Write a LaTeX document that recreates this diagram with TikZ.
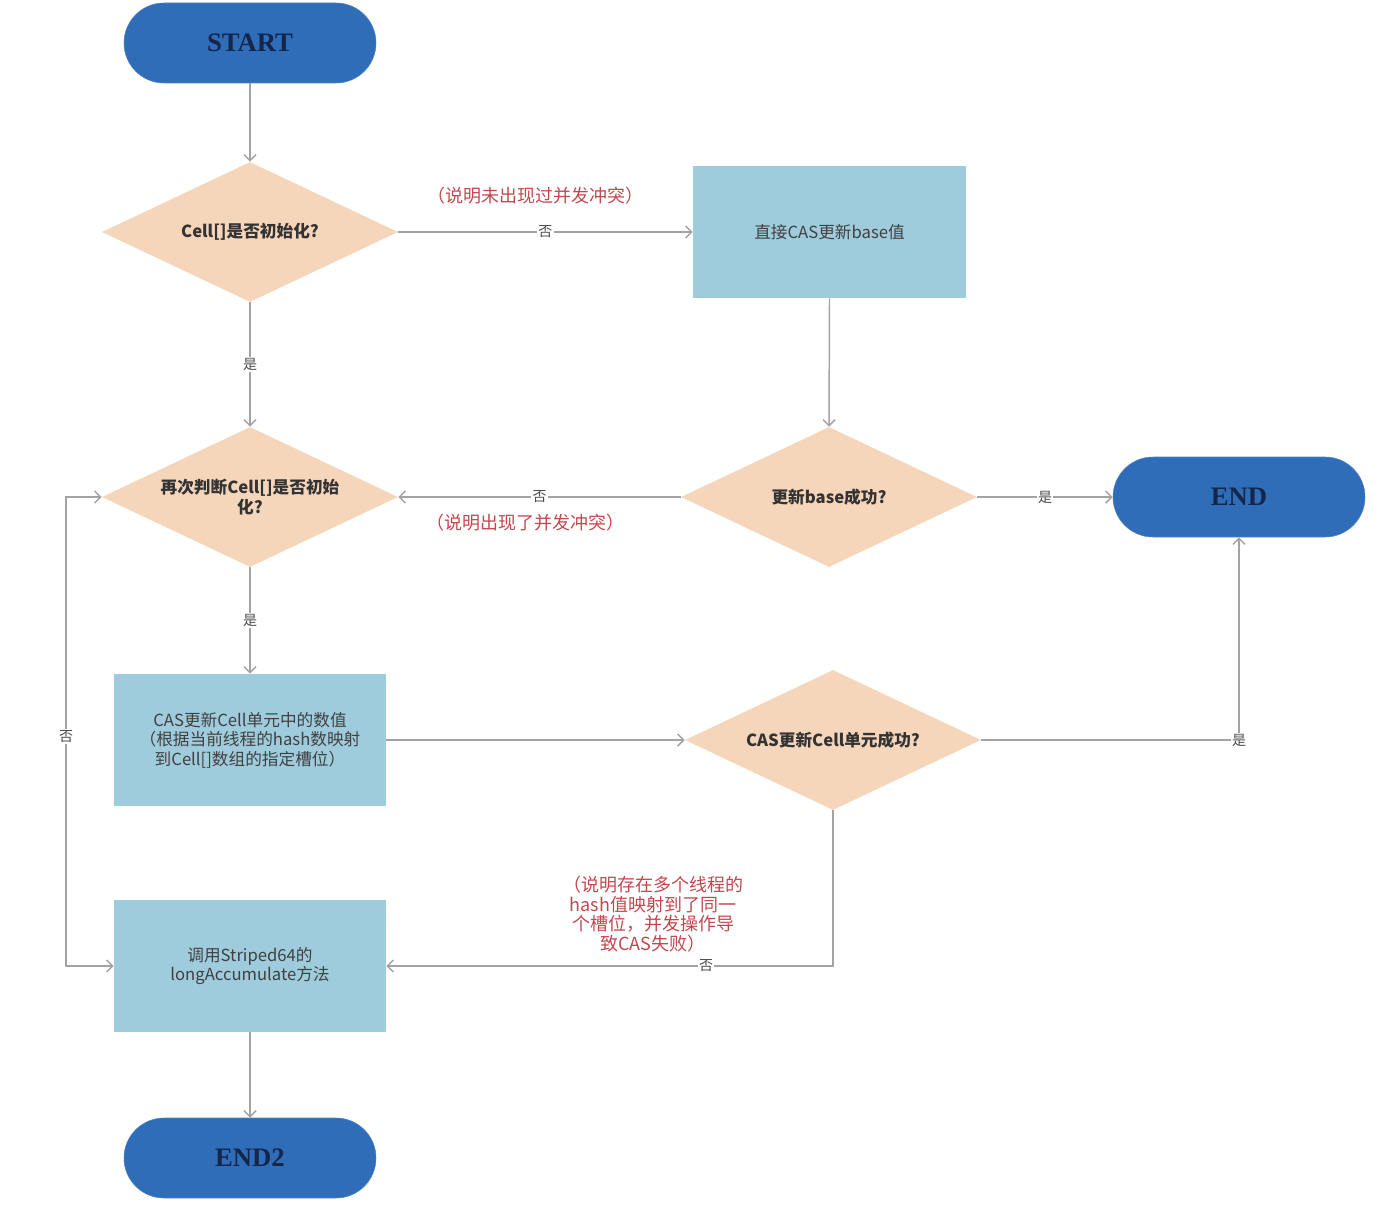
\documentclass[tikz,border=0pt]{standalone}
\usepackage{fontspec}
\setmainfont{Noto Sans CJK SC}
\newfontfamily\termfont{Liberation Serif}
\usetikzlibrary{shapes.geometric,arrows.meta}
\definecolor{termblue}{HTML}{2F6DB9}
\definecolor{termtext}{HTML}{14264A}
\definecolor{decfill}{HTML}{F6D6BB}
\definecolor{procfill}{HTML}{9FCCDD}
\definecolor{linegray}{HTML}{A3A3A3}
\definecolor{notered}{HTML}{C2474F}

\begin{document}
\begin{tikzpicture}[x=0.75pt,y=-0.75pt,
   term/.style={draw=termblue!85!white,fill=termblue,rounded corners=30pt,minimum width=189pt,minimum height=60pt,
      font=\termfont\bfseries\fontsize{20}{24}\selectfont,text=termtext},
   decision/.style={diamond,aspect=2.1,inner sep=0pt,fill=decfill,minimum width=222pt,minimum height=105pt,
      font=\bfseries\fontsize{12.5}{14.6}\selectfont,text=black!80,align=center},
   proc/.style={rectangle,fill=procfill,minimum width=205pt,minimum height=99pt,
      font=\fontsize{12.5}{14.6}\selectfont,text=black!75,align=center},
   line/.style={draw=linegray,line width=1.1pt,-{Straight Barb[length=4.5pt,width=9pt]}},
   yn/.style={fill=white,inner sep=1pt,font=\fontsize{10.5}{12}\selectfont,text=black!70},
   note/.style={font=\fontsize{13.5}{14.7}\selectfont,text=notered,align=center}]
   \useasboundingbox (0,0) rectangle (1384,1206);
   \node[term] (start) at (250,43) {START};
   \node[decision] (d1) at (250,232) {Cell[]是否初始化?};
   \node[proc,minimum width=205pt] (casbase) at (829.5,232) {直接CAS更新base值};
   \node[decision] (d2) at (250,497) {再次判断Cell[]是否初始\\化?};
   \node[decision] (d3) at (829,497) {更新base成功?};
   \node[term] (end) at (1239,497) {END};
   \node[proc,minimum width=204pt] (cascell) at (250,740) {CAS更新Cell单元中的数值\\（根据当前线程的hash数映射\\到Cell[]数组的指定槽位）};
   \node[decision] (d4) at (833,740) {CAS更新Cell单元成功?};
   \node[proc,minimum width=204pt] (longacc) at (250,966) {调用Striped64的\\longAccumulate方法};
   \node[term] (end2) at (250,1158) {END2};
   \coordinate (loopl) at (66,497);
   \node[note] (n1) at (535,196) {（说明未出现过并发冲突）};
   \node[note] (n2) at (525,523) {（说明出现了并发冲突）};
   \node[note] (n3) at (653,914) {（说明存在多个线程的\\hash值映射到了同一\\个槽位，并发操作导\\致CAS失败）};
   \draw[line] (start) -- (d1);
   \draw[line] (d1.east) -- node[yn] {否} (casbase.west);
   \draw[line] (d1.south) -- node[yn] {是} (d2.north);
   \draw[line] (casbase.south) -- (d3.north);
   \draw[line] (d3.west) -- node[yn] {否} (d2.east);
   \draw[line] (d3.east) -- node[yn] {是} (end.west);
   \draw[line] (d2.south) -- node[yn] {是} (cascell.north);
   \draw[line] (cascell.east) -- (d4.west);
   \draw[line] (d4.east) -| node[yn] {是} (end.south);
   \draw[line] (d4.south) |- node[yn,pos=0.642] {否} (longacc.east);
   \draw[line,{Straight Barb[length=4.5pt,width=9pt]}-{Straight Barb[length=4.5pt,width=9pt]}] (d2.west) -- (loopl) |- node[yn,pos=0.255] {否} (longacc.west);
   \draw[line] (longacc.south) -- (end2.north);
\end{tikzpicture}
\end{document}
